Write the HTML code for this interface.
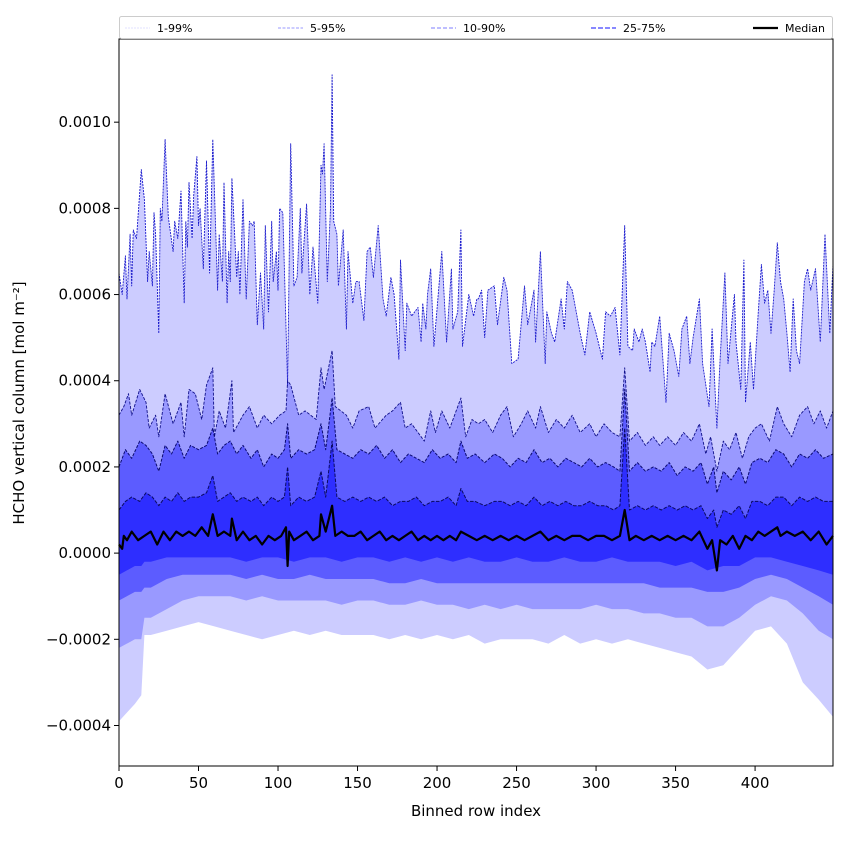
<!DOCTYPE html>
<html><head><meta charset="utf-8"><style>
html,body{margin:0;padding:0;background:#fff;}
svg{display:block;font-family:"DejaVu Sans","Liberation Sans",sans-serif;}
</style></head><body>
<svg id="chart" width="850" height="850" viewBox="0 0 850 850" xmlns="http://www.w3.org/2000/svg">
<rect x="0" y="0" width="850" height="850" fill="#fff"/>
<g id="bands"></g>
<g id="lines"></g>
<g id="axes"></g>
<text x="476" y="816" font-size="15" text-anchor="middle">Binned row index</text>
<text x="0" y="0" font-size="15" text-anchor="middle" transform="translate(24,403) rotate(-90)">HCHO vertical column [mol m⁻²]</text>
<g id="legend"></g>
</svg>
<script>
// values in units of 1e-4 mol m^-2
const SCALE = 1e-4;
const p99X = [0,2,4,5,7,8,9,11,14,16,18,19,21,22,23,25,26,27,29,31,34,35,37,39,41,42,43,44,46,47,49,50,51,53,55,57,59,62,63,65,66,68,69,70,71,74,75,76,78,80,82,84,85,87,89,91,92,94,96,97,99,100,101,103,104,106,108,110,112,114,115,118,120,122,125,127,128,129,131,133,134,135,137,138,141,143,144,147,149,151,154,156,158,160,163,166,168,171,173,176,177,180,181,184,188,190,191,193,194,196,198,201,203,206,209,210,213,215,216,220,223,225,226,228,230,232,236,238,242,244,247,251,255,257,261,262,265,268,269,272,274,278,280,282,285,287,290,293,296,300,304,306,309,312,315,318,320,323,324,327,329,331,334,335,337,340,344,346,349,352,354,357,359,361,365,367,371,373,376,378,381,383,387,388,391,393,394,397,399,402,404,406,408,410,412,414,416,418,420,422,424,426,428,431,433,435,438,441,444,447,449];
const p99 = [6.5,6.0,6.9,5.9,7.4,6.2,7.5,7.3,8.9,8.2,6.3,7.0,6.2,7.9,7.4,5.1,8.0,7.7,9.6,7.8,7.0,7.7,7.3,8.4,5.8,7.7,7.1,8.6,7.3,8.3,9.2,7.6,8.0,6.6,9.1,6.5,9.6,6.1,7.4,6.3,8.6,5.8,7.0,6.3,8.7,6.4,7.0,6.0,8.2,5.9,7.7,7.6,7.7,5.3,6.5,5.2,7.6,5.6,7.7,6.3,7.0,6.1,8.0,7.9,6.6,3.9,9.5,6.2,6.4,8.0,6.5,8.1,6.0,7.1,5.8,9.0,8.8,9.5,6.3,8.0,11.1,7.7,7.4,6.2,7.5,5.2,7.0,5.8,6.3,6.3,5.4,7.0,7.1,6.4,7.6,5.9,5.5,6.4,6.0,4.5,6.8,4.7,5.8,5.5,5.7,4.9,5.8,5.2,6.0,6.6,4.8,6.1,7.0,4.9,6.6,5.2,5.6,7.5,4.8,6.0,5.5,5.9,5.9,6.1,5.0,6.1,6.2,5.3,6.4,6.1,4.4,4.5,6.2,5.3,6.1,4.9,7.0,4.4,5.6,5.1,4.9,5.9,5.2,6.3,6.1,5.7,5.1,4.6,5.6,5.1,4.5,5.6,5.5,5.7,4.6,7.6,4.8,4.7,5.2,4.9,5.2,4.9,4.2,4.9,4.8,5.5,3.5,5.1,4.7,4.1,5.2,5.5,4.4,5.0,5.9,4.4,3.4,5.2,2.9,4.5,6.5,4.4,6.0,4.9,3.8,6.8,3.5,4.9,3.8,5.6,6.7,5.8,6.1,5.1,6.1,7.2,6.3,5.9,5.1,4.2,5.9,4.7,4.4,6.3,6.6,6.1,6.6,4.9,7.4,5.1,6.7];
const p95X = [0,3,6,8,13,17,19,23,25,29,34,39,41,44,48,52,55,59,60,63,67,71,72,78,82,87,91,96,101,105,106,108,113,117,124,127,129,134,136,143,147,151,157,161,168,172,177,180,184,192,196,199,203,208,215,218,222,226,230,235,240,244,248,253,257,262,265,270,275,280,285,290,296,300,305,310,315,318,321,326,331,336,340,345,350,355,360,365,369,372,376,380,384,388,392,396,400,404,409,414,418,423,428,433,437,441,445,449];
const p95 = [3.2,3.4,3.7,3.2,3.8,3.5,2.9,3.2,2.7,3.7,3.0,3.5,2.7,3.8,3.7,3.1,3.9,4.3,2.7,3.3,2.9,4.0,2.8,3.2,3.4,2.9,3.2,3.0,3.2,3.3,4.0,3.9,3.2,3.3,3.1,4.3,3.8,4.7,3.4,3.2,2.9,3.3,3.4,2.9,3.2,3.3,3.5,2.9,3.0,2.6,3.3,2.8,3.3,2.9,3.6,2.7,3.1,3.0,3.1,2.8,3.2,3.4,2.7,3.0,3.3,2.9,3.4,2.8,3.1,2.9,3.2,2.8,3.0,2.7,3.0,2.8,2.7,4.3,2.6,2.8,2.5,2.7,2.5,2.7,2.5,2.8,2.6,3.0,2.3,2.7,1.9,2.6,2.4,2.8,2.2,2.7,2.9,3.0,2.6,3.4,3.0,2.7,3.2,3.4,3.0,3.3,2.9,3.3];
const midX = [0,4,8,13,17,21,25,29,33,37,41,45,50,55,59,62,66,70,74,78,83,87,91,96,100,104,106,108,113,118,123,127,130,134,137,142,147,152,157,162,167,172,177,182,187,192,197,202,207,212,215,219,224,230,236,241,246,251,256,261,266,271,276,281,286,291,296,301,306,311,315,318,321,326,331,336,341,346,351,356,361,366,370,374,376,380,385,390,394,398,403,408,413,418,423,428,433,438,443,449];
const p90 = [2.0,2.4,2.2,2.6,2.5,2.3,1.9,2.5,2.3,2.6,2.2,2.5,2.4,2.5,2.9,2.3,2.5,2.6,2.3,2.5,2.2,2.4,2.0,2.3,2.2,2.4,3.0,2.2,2.4,2.3,2.4,3.0,2.4,3.6,2.4,2.3,2.2,2.4,2.3,2.5,2.2,2.4,2.1,2.3,2.2,2.1,2.4,2.2,2.3,2.1,2.6,2.2,2.3,2.1,2.3,2.2,2.0,2.2,2.1,2.4,2.1,2.2,2.0,2.2,2.1,2.0,2.2,2.0,2.1,2.0,1.9,3.8,1.9,2.1,1.9,2.0,1.9,2.1,1.8,2.0,1.9,2.1,1.6,2.0,1.4,1.9,1.7,2.0,1.6,2.1,2.2,2.1,2.4,2.3,2.0,2.3,2.2,2.4,2.2,2.3];
const p75 = [1.0,1.2,1.3,1.2,1.4,1.3,1.1,1.3,1.2,1.4,1.2,1.3,1.3,1.4,1.8,1.2,1.3,1.4,1.2,1.3,1.2,1.3,1.1,1.3,1.2,1.3,2.0,1.1,1.3,1.2,1.3,1.9,1.3,2.6,1.3,1.2,1.3,1.2,1.3,1.2,1.3,1.1,1.2,1.2,1.3,1.1,1.2,1.2,1.3,1.1,1.5,1.2,1.2,1.1,1.2,1.2,1.1,1.2,1.1,1.3,1.1,1.2,1.1,1.2,1.1,1.1,1.2,1.1,1.1,1.0,1.1,2.9,1.0,1.1,1.0,1.1,1.0,1.1,1.0,1.1,1.0,1.1,0.8,1.0,0.6,1.0,0.9,1.1,0.8,1.2,1.2,1.1,1.3,1.3,1.1,1.3,1.2,1.3,1.2,1.2];
const medX = [0,2,3,5,8,12,16,20,24,28,32,36,40,44,48,52,56,59,62,66,70,71,74,78,82,86,90,94,98,102,105,106,107,110,114,118,122,126,127,130,134,136,140,144,148,152,156,160,164,168,172,176,180,184,188,192,196,200,204,208,212,215,220,225,230,235,240,245,250,255,260,265,270,275,280,285,290,295,300,305,310,315,318,321,325,330,335,340,345,350,355,360,365,370,373,376,378,382,386,390,394,398,402,406,410,414,416,420,425,430,435,440,445,449];
const median = [0.2,0.1,0.4,0.3,0.5,0.3,0.4,0.5,0.2,0.5,0.3,0.5,0.4,0.5,0.4,0.6,0.4,0.9,0.4,0.5,0.4,0.8,0.3,0.5,0.3,0.4,0.2,0.4,0.3,0.4,0.6,-0.3,0.5,0.3,0.4,0.5,0.3,0.4,0.9,0.5,1.1,0.4,0.5,0.4,0.4,0.5,0.3,0.4,0.5,0.3,0.4,0.3,0.4,0.5,0.3,0.4,0.3,0.4,0.3,0.4,0.3,0.5,0.4,0.3,0.4,0.3,0.4,0.3,0.4,0.3,0.4,0.5,0.3,0.4,0.3,0.4,0.4,0.3,0.4,0.4,0.3,0.4,1.0,0.3,0.4,0.3,0.4,0.3,0.4,0.3,0.4,0.3,0.5,0.1,0.3,-0.4,0.3,0.2,0.4,0.1,0.4,0.3,0.5,0.4,0.5,0.6,0.4,0.5,0.4,0.5,0.3,0.5,0.2,0.4];
const lowX = [0,10,14,16,20,30,40,50,60,70,80,90,100,110,120,130,140,150,160,170,180,190,200,210,220,230,240,250,260,270,280,290,300,310,320,330,340,350,360,370,380,390,400,410,420,430,440,449];
const p25 = [-0.5,-0.3,-0.3,-0.2,-0.2,-0.1,-0.1,-0.1,-0.1,-0.1,-0.2,-0.1,-0.1,-0.2,-0.1,-0.1,-0.2,-0.1,-0.1,-0.2,-0.1,-0.2,-0.1,-0.2,-0.1,-0.2,-0.2,-0.1,-0.2,-0.2,-0.1,-0.2,-0.2,-0.1,-0.2,-0.2,-0.2,-0.3,-0.2,-0.4,-0.3,-0.3,-0.1,-0.1,-0.2,-0.3,-0.4,-0.5];
const p10 = [-1.1,-0.9,-0.9,-0.8,-0.8,-0.6,-0.5,-0.5,-0.5,-0.5,-0.6,-0.5,-0.6,-0.6,-0.5,-0.6,-0.6,-0.6,-0.6,-0.7,-0.7,-0.6,-0.7,-0.7,-0.7,-0.7,-0.7,-0.7,-0.7,-0.7,-0.7,-0.7,-0.7,-0.7,-0.7,-0.7,-0.8,-0.8,-0.8,-0.9,-0.9,-0.8,-0.6,-0.5,-0.6,-0.8,-1.0,-1.2];
const p5 = [-2.2,-2.0,-2.0,-1.5,-1.5,-1.3,-1.1,-1.0,-1.0,-1.0,-1.1,-1.0,-1.1,-1.1,-1.1,-1.1,-1.2,-1.1,-1.1,-1.2,-1.2,-1.1,-1.2,-1.2,-1.3,-1.2,-1.3,-1.2,-1.3,-1.3,-1.3,-1.3,-1.2,-1.3,-1.3,-1.4,-1.4,-1.5,-1.5,-1.7,-1.7,-1.5,-1.2,-1.0,-1.1,-1.4,-1.8,-2.0];
const p1 = [-3.9,-3.5,-3.3,-1.9,-1.9,-1.8,-1.7,-1.6,-1.7,-1.8,-1.9,-2.0,-1.9,-1.8,-1.9,-1.8,-1.9,-1.9,-1.9,-2.0,-1.9,-2.0,-1.9,-2.0,-1.9,-2.1,-2.0,-2.0,-2.0,-2.1,-1.9,-2.1,-2.0,-2.1,-2.0,-2.1,-2.2,-2.3,-2.4,-2.7,-2.6,-2.2,-1.8,-1.7,-2.1,-3.0,-3.4,-3.8];
const xTicks = [0,50,100,150,200,250,300,350,400];
const yTicks = [-0.0004,-0.0002,0.0000,0.0002,0.0004,0.0006,0.0008,0.0010];
const yTickLabels = ["\u22120.0004","\u22120.0002","0.0000","0.0002","0.0004","0.0006","0.0008","0.0010"];
const legendLabels = ["1-99%","5-95%","10-90%","25-75%","Median"];

const PL=119, PR=833, PT=39, PB=766;
const XMIN=0, XMAX=449, YMIN=-0.000494, YMAX=0.001193;
function xs(v){return PL+(v-XMIN)/(XMAX-XMIN)*(PR-PL);}
function ys(v){return PB-(v-YMIN)/(YMAX-YMIN)*(PB-PT);}
const NS="http://www.w3.org/2000/svg";
function pts(X,V){return X.map((x,i)=>xs(x).toFixed(1)+","+ys(V[i]*SCALE).toFixed(1));}

const bands=document.getElementById('bands');
function band(X1,V1,X2,V2,color,name){
  const p=document.createElementNS(NS,'polygon');
  p.setAttribute('points',pts(X1,V1).concat(pts(X2,V2).reverse()).join(' '));
  p.setAttribute('fill',color);
  
  
  bands.appendChild(p);
}
band(p99X,p99,lowX,p1,'#ccccff','band-1-99');
band(p95X,p95,lowX,p5,'#9999ff','band-5-95');
band(midX,p90,lowX,p10,'#5c5cff','band-10-90');
band(midX,p75,lowX,p25,'#2e2eff','band-25-75');

const lines=document.getElementById('lines');
function line(X,V,color,w,dash,name){
  const p=document.createElementNS(NS,'polyline');
  p.setAttribute('points',pts(X,V).join(' '));
  p.setAttribute('fill','none');
  p.setAttribute('stroke',color);
  p.setAttribute('stroke-width',w);
  if(dash)p.setAttribute('stroke-dasharray',dash);
  p.setAttribute('stroke-linejoin','round');
  
  
  lines.appendChild(p);
}
line(p99X,p99,'#1a1acc',0.9,'2,1','line-p99');
line(p95X,p95,'#10108a',0.9,'3,1.5','line-p95');
line(midX,p90,'#0a0a70',1,'3,1.5','line-p90');
line(midX,p75,'#0a0a60',1,'3.5,1.5','line-p75');
line(medX,median,'#000',2.2,null,'line-median');

const axes=document.getElementById('axes');
const frame=document.createElementNS(NS,'rect');
frame.setAttribute('x',PL);frame.setAttribute('y',PT);
frame.setAttribute('width',PR-PL);frame.setAttribute('height',PB-PT);
frame.setAttribute('fill','none');frame.setAttribute('stroke','#000');frame.setAttribute('stroke-width','1');


axes.appendChild(frame);
xTicks.forEach(t=>{
  const x=xs(t);
  const l=document.createElementNS(NS,'line');
  l.setAttribute('x1',x);l.setAttribute('x2',x);l.setAttribute('y1',PB);l.setAttribute('y2',PB+5);
  l.setAttribute('stroke','#000');
  
  
  axes.appendChild(l);
  const tx=document.createElementNS(NS,'text');
  tx.setAttribute('x',x);tx.setAttribute('y',PB+22);tx.setAttribute('font-size','15');tx.setAttribute('text-anchor','middle');
  tx.textContent=t;
  
  
  axes.appendChild(tx);
});
yTicks.forEach((t,i)=>{
  const y=ys(t);
  const l=document.createElementNS(NS,'line');
  l.setAttribute('x1',PL-5);l.setAttribute('x2',PL);l.setAttribute('y1',y);l.setAttribute('y2',y);
  l.setAttribute('stroke','#000');
  
  
  axes.appendChild(l);
  const tx=document.createElementNS(NS,'text');
  tx.setAttribute('x',PL-8);tx.setAttribute('y',y+5);tx.setAttribute('font-size','15');tx.setAttribute('text-anchor','end');
  tx.textContent=yTickLabels[i];
  
  
  axes.appendChild(tx);
});

const legend=document.getElementById('legend');
const lb=document.createElementNS(NS,'rect');
lb.setAttribute('x',119.5);lb.setAttribute('y',16.5);lb.setAttribute('width',713);lb.setAttribute('height',22);lb.setAttribute('rx',2);
lb.setAttribute('fill','#fff');lb.setAttribute('stroke','#ccc');


legend.appendChild(lb);
const legX=[125,278,431,591,753];
const legCol=['#d8d8ff','#9a9aff','#7c7cff','#6060ff','#000'];
const legDash=['2,1','3,1.5','4,2','5,2',null];
const legW=[0.8,0.9,1.1,1.5,2.2];
legendLabels.forEach((lab,i)=>{
  const l=document.createElementNS(NS,'line');
  l.setAttribute('x1',legX[i]);l.setAttribute('x2',legX[i]+25);l.setAttribute('y1',28);l.setAttribute('y2',28);
  l.setAttribute('stroke',legCol[i]);l.setAttribute('stroke-width',legW[i]);
  if(legDash[i])l.setAttribute('stroke-dasharray',legDash[i]);
  
  
  legend.appendChild(l);
  const tx=document.createElementNS(NS,'text');
  tx.setAttribute('x',legX[i]+32);tx.setAttribute('y',32);tx.setAttribute('font-size','11');
  tx.textContent=lab;
  
  
  legend.appendChild(tx);
});
</script>
</body></html>
